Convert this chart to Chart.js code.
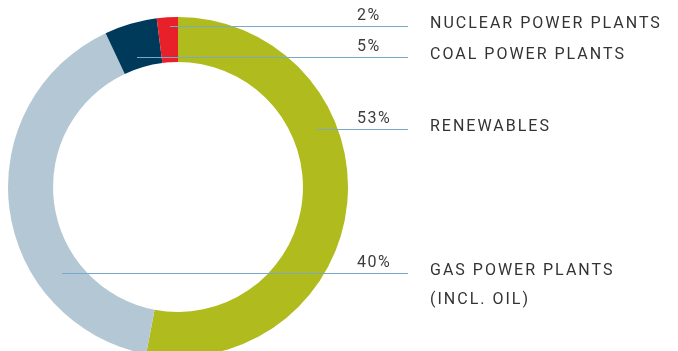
<!DOCTYPE html>
<html>
<head>
<meta charset="utf-8">
<script src="https://cdn.jsdelivr.net/npm/chart.js@4/dist/chart.umd.min.js"></script>
<style>
  html, body { margin: 0; padding: 0; background: #fff; overflow: hidden; }
  #wrap { width: 678px; height: 360px; position: relative; }
</style>
</head>
<body>
<div id="wrap"><canvas id="mycanvas"></canvas></div>
<script>
// energy mix shares, clockwise from 12 o'clock
var sources = ["RENEWABLES", "GAS POWER PLANTS", "COAL POWER PLANTS", "NUCLEAR POWER PLANTS"];
var shares = [53, 40, 5, 2];
var notes = ["", "(INCL. OIL)", "", ""];
var colours = ["#b0bb1e", "#b3c8d4", "#003a5a", "#e8202a"];

// where each leader line runs: y of the line and x where it starts inside the ring
var leaders = [
  { y: 129, x0: 317 },
  { y: 273, x0: 62 },
  { y: 57,  x0: 137 },
  { y: 26,  x0: 170 }
];

var leaderPlugin = {
  id: 'leaders',
  afterDatasetsDraw: function(chart) {
    var ctx = chart.ctx;
    var meta = chart.getDatasetMeta(0);
    ctx.save();
    for (var i = 0; i < meta.data.length; i++) {
      var l = leaders[i];
      ctx.strokeStyle = "#7aa8c8";
      ctx.lineWidth = 1;
      ctx.beginPath();
      ctx.moveTo(l.x0, l.y + 0.5);
      ctx.lineTo(408, l.y + 0.5);
      ctx.stroke();

      ctx.fillStyle = "#3d3d3d";
      ctx.font = "16px Roboto";
      ctx.letterSpacing = "1.5px";
      ctx.textBaseline = "alphabetic";
      ctx.textAlign = "left";
      ctx.fillText(shares[i] + "%", 357, l.y - 6);

      ctx.fillStyle = "#333";
      ctx.font = "16px Roboto";
      ctx.letterSpacing = "2px";
      ctx.fillText(sources[i], 430, l.y + 2);
      if (notes[i]) ctx.fillText(notes[i], 430, l.y + 31);
    }
    ctx.restore();
  }
};

var ctx = document.getElementById("mycanvas");
var chart = new Chart(ctx, {
  type: 'doughnut',
  data: {
    labels: sources,
    datasets: [{
      data: shares,
      backgroundColor: colours,
      borderWidth: 0,
      hoverOffset: 0
    }]
  },
  options: {
    animation: false,
    responsive: true,
    maintainAspectRatio: false,
    cutout: '73.5%',
    layout: { padding: { left: 8, right: 330, top: 17, bottom: 3 } },
    plugins: { legend: { display: false }, tooltip: { enabled: false } }
  },
  plugins: [leaderPlugin]
});
</script>
</body>
</html>
